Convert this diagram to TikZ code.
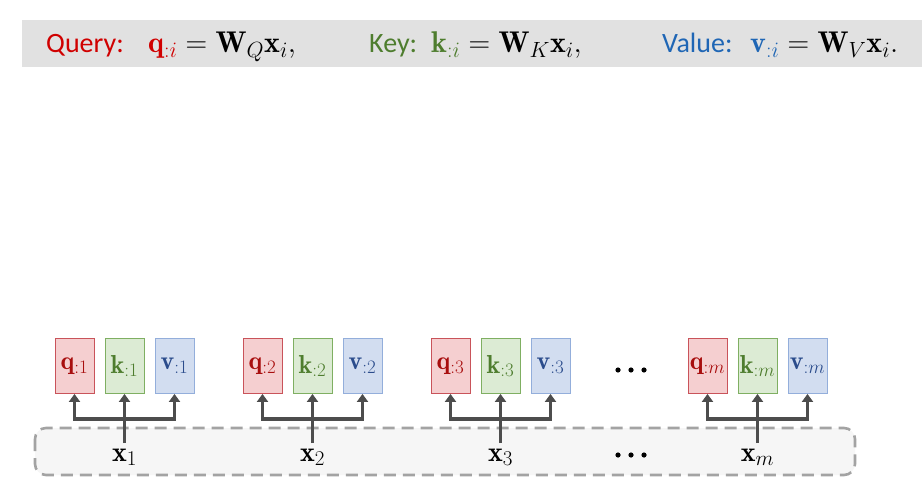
\RequirePackage{fix-cm}
\documentclass[tikz,border=0pt]{standalone}
\usepackage{amsmath}
\usepackage{fontspec}
\newfontfamily\calib{Carlito}
\usetikzlibrary{arrows.meta}
\DeclareMathSizes{26}{26}{19}{14}
\DeclareMathSizes{28}{28}{21}{15}
\DeclareMathSizes{30}{30}{22}{16}
\definecolor{qred}{HTML}{D00000}
\definecolor{qdark}{HTML}{A80E0E}
\definecolor{kgreen}{HTML}{4E7D2E}
\definecolor{vblue}{HTML}{2B4C8C}
\definecolor{vlabel}{HTML}{1F66B5}
\definecolor{qfill}{HTML}{F5CFD0}
\definecolor{qline}{HTML}{C9535A}
\definecolor{kfill}{HTML}{DCEBD4}
\definecolor{kline}{HTML}{7FAF62}
\definecolor{vfill}{HTML}{D2DDF0}
\definecolor{vline}{HTML}{93AEDB}
\definecolor{banner}{HTML}{E1E1E1}
\definecolor{conn}{HTML}{4D4D4D}
\definecolor{dashc}{HTML}{A3A3A3}
\definecolor{inputfill}{HTML}{F6F6F6}
\tikzset{
  vecbox/.style={minimum width=39pt,minimum height=55pt,inner sep=0pt,line width=0.9pt,font=\fontsize{26}{28}\selectfont},
  qbox/.style={vecbox,draw=qline,fill=qfill,text=qdark},
  kbox/.style={vecbox,draw=kline,fill=kfill,text=kgreen},
  vbox/.style={vecbox,draw=vline,fill=vfill,text=vblue},
  arr/.style={draw=conn,line width=3.6pt,-{Triangle[length=8pt,width=11pt]}},
  plain/.style={draw=conn,line width=3.6pt},
  xlab/.style={font=\fontsize{28}{30}\selectfont,anchor=base},
  headword/.style={anchor=base west,inner sep=0pt,font=\fontsize{28}{32}\calib\selectfont},
  headmath/.style={anchor=base west,inner sep=0pt,font=\fontsize{30}{34}\selectfont},
  dotc/.style={fill=black}
}
\begin{document}
\begin{tikzpicture}[x=1pt,y=-1pt]
\useasboundingbox (0,0) rectangle (922,500);
\fill[white] (0,0) rectangle (922,500);
% banner
\fill[banner] (22,20) rectangle (922,67);
\node[headword,text=qred] (qword) at (46,53) {Query:};
\node[headmath] (qeq) at (148,53) {$\color{qred}\mathbf{q}_{:i}\color{black} = \mathbf{W}_{Q}\mathbf{x}_{i},$};
\node[headword,text=kgreen] (kword) at (369,53) {Key:};
\node[headmath] (keq) at (431,53) {$\color{kgreen}\mathbf{k}_{:i}\color{black} = \mathbf{W}_{K}\mathbf{x}_{i},$};
\node[headword,text=vlabel] (vword) at (662,53) {Value:};
\node[headmath] (veq) at (750,53) {$\color{vlabel}\mathbf{v}_{:i}\color{black} = \mathbf{W}_{V}\mathbf{x}_{i}.$};
% input region
\draw[dashc,fill=inputfill,line width=2.6pt,dash pattern=on 12pt off 7pt,rounded corners=11pt] (35,428) rectangle (855,475);
% groups
\foreach \n/\c/\s in {1/124.5/1, 2/312.5/2, 3/500.5/3, m/757.5/m}{
  \node[qbox] (q\n) at (\c-50,366) {$\mathbf{q}_{:\s}$};
  \node[kbox] (k\n) at (\c,366) {$\mathbf{k}_{:\s}$};
  \node[vbox] (v\n) at (\c+50,366) {$\mathbf{v}_{:\s}$};
  \coordinate (s\n) at (\c,443);
  \coordinate (j\n) at (\c,419);
  \node[xlab] (x\n) at (\c,461) {$\mathbf{x}_{\s}$};
  \draw[plain] (s\n) -- (j\n);
  \draw[arr] (j\n) -- (k\n.south);
  \draw[arr] (j\n) -| (q\n.south);
  \draw[arr] (j\n) -| (v\n.south);
}
% ellipses
\foreach \y in {370,455}{
  \foreach \x in {618,631,644}{
    \fill[dotc] (\x,\y) circle (2.6pt);
  }
}
\end{tikzpicture}
\end{document}
